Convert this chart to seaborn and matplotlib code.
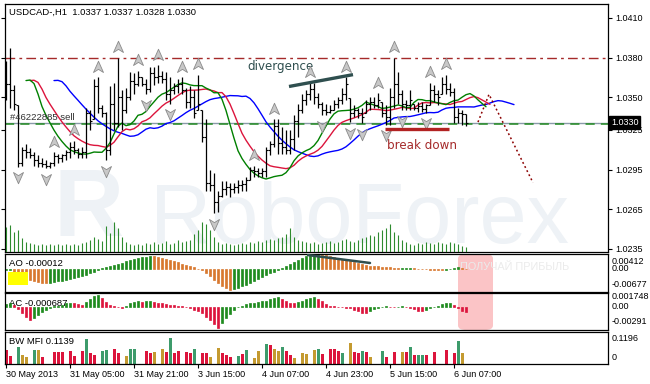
import numpy as np
import pandas as pd
import matplotlib
matplotlib.use("Agg")
import matplotlib.pyplot as plt
from matplotlib.path import Path
from matplotlib.patches import FancyBboxPatch, Rectangle
import seaborn as sns

sns.set_theme(style="white")
plt.rcParams['font.family'] = ['Liberation Sans', 'DejaVu Sans']

# ---------------- data ----------------
high = [1.0377,1.0387,1.0359,1.0344,1.0312,1.0314,1.0311,1.0308,1.0306,1.0304,
        1.0302,1.0301,1.0308,1.0307,1.0307,1.0310,1.0316,1.0317,1.0311,1.0312,
        1.0342,1.0340,1.0364,1.0365,1.0344,1.0339,1.0358,1.0361,1.0380,1.0355,
        1.0357,1.0369,1.0368,1.0370,1.0365,1.0364,1.0373,1.0373,1.0374,1.0370,
        1.0369,1.0365,1.0361,1.0364,1.0365,1.0357,1.0358,1.0355,1.0367,1.0340,
        1.0333,1.0295,1.0292,1.0279,1.0286,1.0286,1.0285,1.0285,1.0287,1.0287,
        1.0289,1.0297,1.0298,1.0296,1.0296,1.0312,1.0317,1.0333,1.0333,1.0327,
        1.0325,1.0325,1.0336,1.0345,1.0352,1.0355,1.0361,1.0361,1.0353,1.0346,
        1.0345,1.0344,1.0348,1.0350,1.0357,1.0365,1.0349,1.0344,1.0342,1.0342,
        1.0348,1.0350,1.0350,1.0353,1.0346,1.0344,1.0357,1.0380,1.0369,1.0355,
        1.0348,1.0355,1.0345,1.0346,1.0346,1.0345,1.0361,1.0359,1.0355,1.0365,
        1.0367,1.0361,1.0357,1.0342,1.0340,1.0337]
low = [1.0348,1.0342,1.0340,1.0297,1.0298,1.0304,1.0304,1.0298,1.0297,1.0297,
       1.0296,1.0296,1.0298,1.0300,1.0301,1.0302,1.0304,1.0307,1.0304,1.0304,
       1.0304,1.0325,1.0333,1.0338,1.0335,1.0302,1.0306,1.0325,1.0327,1.0325,
       1.0338,1.0348,1.0352,1.0358,1.0358,1.0352,1.0354,1.0359,1.0361,1.0361,
       1.0348,1.0345,1.0352,1.0353,1.0352,1.0342,1.0342,1.0334,1.0340,1.0316,
       1.0279,1.0279,1.0262,1.0263,1.0274,1.0276,1.0274,1.0277,1.0277,1.0279,
       1.0279,1.0287,1.0289,1.0289,1.0289,1.0289,1.0306,1.0312,1.0307,1.0307,
       1.0307,1.0307,1.0310,1.0320,1.0338,1.0344,1.0348,1.0345,1.0342,1.0336,
       1.0336,1.0338,1.0340,1.0342,1.0345,1.0348,1.0331,1.0335,1.0334,1.0330,
       1.0338,1.0340,1.0342,1.0342,1.0335,1.0329,1.0329,1.0342,1.0345,1.0340,
       1.0340,1.0340,1.0340,1.0339,1.0339,1.0338,1.0344,1.0346,1.0344,1.0352,
       1.0352,1.0351,1.0330,1.0330,1.0329,1.0328]
close = [1.0360,1.0355,1.0345,1.0300,1.0310,1.0308,1.0306,1.0302,1.0300,1.0299,
         1.0298,1.0300,1.0305,1.0304,1.0306,1.0308,1.0312,1.0310,1.0307,1.0308,
         1.0338,1.0332,1.0358,1.0342,1.0338,1.0310,1.0345,1.0330,1.0350,1.0340,
         1.0350,1.0362,1.0360,1.0365,1.0360,1.0356,1.0368,1.0365,1.0366,1.0364,
         1.0352,1.0355,1.0358,1.0360,1.0355,1.0346,1.0350,1.0338,1.0345,1.0320,
         1.0285,1.0283,1.0270,1.0275,1.0280,1.0282,1.0280,1.0282,1.0283,1.0284,
         1.0287,1.0295,1.0294,1.0292,1.0294,1.0310,1.0314,1.0328,1.0315,1.0312,
         1.0310,1.0318,1.0332,1.0340,1.0348,1.0352,1.0356,1.0350,1.0345,1.0340,
         1.0339,1.0340,1.0345,1.0348,1.0352,1.0360,1.0338,1.0340,1.0338,1.0335,
         1.0345,1.0346,1.0344,1.0348,1.0338,1.0335,1.0350,1.0360,1.0352,1.0345,
         1.0344,1.0348,1.0342,1.0343,1.0341,1.0344,1.0355,1.0352,1.0350,1.0360,
         1.0356,1.0354,1.0335,1.0338,1.0337,1.0330]
volume = [25,27,20,22,14,10,9,8,7,8,
          7,8,7,8,7,8,7,8,7,9,
          10,12,15,13,11,26,19,30,24,15,
          10,8,7,8,7,9,8,10,8,9,
          11,8,9,12,10,11,12,18,22,30,
          28,22,15,10,8,9,8,7,8,9,
          8,10,9,11,10,12,13,12,14,15,
          18,24,15,12,11,10,9,10,8,9,
          10,11,9,10,12,13,11,10,12,14,
          15,17,16,20,22,24,28,20,17,12,
          10,8,7,9,8,10,9,8,10,9,
          8,10,9,8,6,5]
ao_milli = [-0.3,-0.2,-1.0,-1.6,-2.2,-2.8,-3.4,-3.8,-4.1,-4.3,
            -4.4,-4.3,-4.1,-3.9,-3.7,-3.4,-3.1,-2.8,-2.5,-2.2,
            -1.8,-1.4,-0.9,-0.4,0.3,0.6,0.9,1.3,1.6,2.0,
            2.4,2.8,3.1,3.4,3.7,3.9,4.1,4.0,3.8,3.5,
            3.2,2.9,2.5,2.1,1.7,1.3,0.9,0.5,0.1,-0.3,
            -1.2,-2.3,-3.4,-4.5,-5.4,-6.1,-6.6,-6.4,-6.0,-5.5,
            -5.0,-4.4,-3.8,-3.2,-2.6,-2.0,-1.4,-0.9,-0.4,0.2,
            0.8,1.5,2.2,3.0,3.6,4.0,4.3,4.5,4.6,4.5,
            4.3,4.0,3.7,3.4,3.1,2.8,2.5,2.2,1.8,1.5,
            1.2,1.0,0.9,0.8,0.7,0.6,0.5,0.4,0.3,0.35,
            0.4,0.45,0.3,0.15,0.05,-0.1,-0.2,-0.3,-0.35,-0.4,
            -0.2,0.1,0.4,0.6,0.3,-0.12]
ac_milli = [0.4,0.5,0.3,-0.3,-0.9,-1.4,-1.8,-1.5,-1.1,-0.7,
            -0.4,-0.1,0.1,0.2,0.3,0.5,0.6,0.5,0.4,0.3,
            0.7,1.1,1.5,1.7,1.2,0.7,0.3,0.1,0.04,-0.1,
            0.2,0.5,0.7,0.8,0.75,0.8,0.85,0.7,0.6,0.5,
            0.4,0.35,0.3,0.2,0.1,0.04,-0.2,-0.4,-0.6,-0.9,
            -1.4,-1.9,-2.4,-2.9,-2.3,-1.6,-1.0,-0.4,0.04,0.2,
            0.4,0.5,0.6,0.7,0.8,0.9,1.1,1.3,1.4,1.1,
            0.8,0.6,0.5,0.7,0.9,1.1,1.3,1.4,1.1,0.8,
            0.4,0.2,0.1,0.05,-0.05,-0.1,-0.2,-0.4,-0.6,-0.8,
            -0.9,-0.6,-0.3,-0.1,0.04,0.08,0.04,-0.05,0.04,0.08,
            0.04,-0.1,-0.3,-0.5,-0.6,-0.4,-0.2,0.04,0.2,0.4,
            0.5,0.6,0.3,-0.2,-0.5,-0.687]
mfi = [0.066,0.038,0.050,0.080,0.042,0.034,0.047,0.066,0.066,0.033,
       0.034,0.034,0.058,0.058,0.058,0.080,0.062,0.038,0.050,0.062,
       0.117,0.050,0.040,0.085,0.062,0.066,0.112,0.070,0.050,0.080,
       0.038,0.070,0.070,0.062,0.080,0.062,0.050,0.058,0.062,0.070,
       0.058,0.1196,0.050,0.062,0.095,0.058,0.050,0.070,0.080,0.050,
       0.050,0.033,0.062,0.075,0.050,0.040,0.033,0.050,0.038,0.045,
       0.066,0.080,0.028,0.060,0.060,0.094,0.090,0.070,0.060,0.080,
       0.060,0.040,0.030,0.066,0.050,0.045,0.066,0.066,0.070,0.045,
       0.075,0.072,0.070,0.062,0.050,0.098,0.098,0.058,0.050,0.062,
       0.058,0.033,0.050,0.058,0.062,0.033,0.066,0.058,0.050,0.058,
       0.058,0.080,0.040,0.040,0.040,0.040,0.058,0.058,0.080,0.118,
       0.066,0.060,0.050,0.110,0.050,0.1139]
mfi_kind = ("rrbgyybgyr" "bbrrrbrrbr" "grrbggbrrb" "yggbbrryby" "rgrrbrrgbr"
            "rybyrrrbgr" "gbyybgryyg" "rrybyybygr" "brrrgbyrrg" "rybbgrbrby"
            "rgrggrbrbb" "rbrgyb")
date_idx = [0, 16, 32, 48, 64, 80, 96, 112]
date_labels = ["30 May 2013", "31 May 05:00", "31 May 21:00", "3 Jun 15:00",
               "4 Jun 07:00", "4 Jun 23:00", "5 Jun 15:00", "6 Jun 07:00"]
price_ticks = [1.0410, 1.0380, 1.0350, 1.0325, 1.0295, 1.0265, 1.0235]
tp_level = 1.0380
bid_level = 1.0330
order_level = 1.03293
div_x = [70.75, 86.75]
div_y = [1.0358, 1.0367]
brk_x = [94.75, 110.75]
brk_y = [1.03257, 1.03257]
proj_x = [118.0, 120.75, 131.75]
proj_y = [1.0331, 1.0352, 1.0285]
ao_div_x = [75.5, 91.0]
ao_div_y = [0.0044, 0.0019]

# ---------------- derived ----------------
n = len(close)
idx = np.arange(n)
H = np.array(high); L = np.array(low); C = np.array(close)
O = np.clip(np.concatenate([[C[0]], C[:-1]]), L, H)
med = (H + L) / 2

def smma(x, p):
    out = np.empty_like(x)
    out[0] = x[0]
    for i in range(1, len(x)):
        out[i] = (out[i-1] * (p - 1) + x[i]) / p
    return out

jaw = smma(med, 13); teeth = smma(med, 8); lips = smma(med, 5)

# ---------------- figure ----------------
W, Hh = 650, 384
fig = plt.figure(figsize=(W/100, Hh/100), dpi=100)
fig.patch.set_facecolor("white")

def rect(l, t, r, b):
    return [l/W, 1 - b/Hh, (r - l)/W, (b - t)/Hh]

ax = fig.add_axes(rect(5, 4, 608, 252))
ax_ao = fig.add_axes(rect(5, 254, 608, 292))
ax_ac = fig.add_axes(rect(5, 293, 608, 330))
ax_mfi = fig.add_axes(rect(5, 332, 608, 364))
XL = (-0.25, 150.5)
for a in (ax, ax_ao, ax_ac, ax_mfi):
    a.set_facecolor("none")
    a.set_xlim(*XL)
    for s in a.spines.values():
        s.set_color("black"); s.set_linewidth(0.9)
    a.tick_params(axis="x", bottom=False, labelbottom=False)
    a.tick_params(axis="y", left=False, labelleft=False, right=False, labelright=False)

# watermark (behind axes)
fig.text(54/W, 1 - 236/Hh, "R", fontsize=70, fontweight="bold", color="#eef2f6",
         va="baseline", ha="left", zorder=-2, family="Liberation Sans")
fig.text(150/W, 1 - 243/Hh, "RoboForex", fontsize=61, color="#eef2f6",
         va="baseline", ha="left", zorder=-2, family="Liberation Sans")

# pink highlight behind AO/AC
fig.add_artist(FancyBboxPatch((458/W, 1 - 330/Hh), 35/W, 76/Hh,
                              boxstyle="round,pad=0,rounding_size=0.012",
                              transform=fig.transFigure, facecolor="#fbc4c6",
                              edgecolor="none", zorder=-1))

# ---- main price panel ----
ax.set_ylim(1.02324, 1.04206)
ax.axhline(tp_level, color="#a52a2a", lw=1, ls=(0, (7, 3, 2, 3)), zorder=1)
ax.axhline(bid_level, color="#8a9aaa", lw=1, zorder=1)
ax.axhline(order_level, color="#228b22", lw=1.1, ls=(0, (6, 4)), zorder=1)

ax_vol = ax.twinx()
ax_vol.set_ylim(0, 248)
ax_vol.set_xlim(*XL)
ax_vol.vlines(idx, 0, volume, color="#2e8b2e", lw=0.8)
ax_vol.set_axis_off()

ax.vlines(idx, L, H, color="black", lw=0.9, zorder=3)
ax.hlines(O, idx - 0.45, idx, color="black", lw=0.8, zorder=3)
ax.hlines(C, idx, idx + 0.45, color="black", lw=0.8, zorder=3)

allig = pd.DataFrame({
    "x": np.concatenate([idx + 12, idx + 6, idx + 5]),
    "y": np.concatenate([jaw, teeth, lips]),
    "line": ["jaw"] * n + ["teeth"] * n + ["lips"] * n,
})
sns.lineplot(data=allig, x="x", y="y", hue="line", estimator=None, sort=False,
             palette={"jaw": "#0000ff", "teeth": "#dc143c", "lips": "#008000"},
             lw=1, legend=False, ax=ax, zorder=2)
ax.set_xlabel(""); ax.set_ylabel("")
ax.set_xlim(*XL)

# fractals
up_m = Path([(0, 1), (0.8, -0.8), (0, -0.3), (-0.8, -0.8), (0, 1)],
            [Path.MOVETO, Path.LINETO, Path.LINETO, Path.LINETO, Path.CLOSEPOLY])
dn_m = Path([(0, -1), (0.8, 0.8), (0, 0.3), (-0.8, 0.8), (0, -1)],
            [Path.MOVETO, Path.LINETO, Path.LINETO, Path.LINETO, Path.CLOSEPOLY])
up_i = [i for i in range(2, n - 2) if H[i] > max(H[i-2:i]) and H[i] >= max(H[i+1:i+3])]
dn_i = [i for i in range(2, n - 2) if L[i] < min(L[i-2:i]) and L[i] <= min(L[i+1:i+3])]
ax.plot(up_i, H[up_i] + 0.0008, ls="none", marker=up_m, ms=9,
        mfc="#c8c8c8", mec="#8a8a8a", mew=0.6, zorder=4)
ax.plot(dn_i, L[dn_i] - 0.0008, ls="none", marker=dn_m, ms=9,
        mfc="#c8c8c8", mec="#8a8a8a", mew=0.6, zorder=4)

# annotations
ax.plot(div_x, div_y, color="#2f4f4f", lw=2.4, zorder=5, solid_capstyle="butt")
ax.text(60.3, 1.0373, "divergence", color="#2f4f4f", fontsize=8.6,
        family="DejaVu Sans", va="center", ha="left")
ax.plot(brk_x, brk_y, color="#b22222", lw=2.4, zorder=5, solid_capstyle="butt")
ax.text(95.3, 1.0313, "break down", color="#a52a2a", fontsize=8.6,
        family="DejaVu Sans", va="center", ha="left")
ax.plot(proj_x, proj_y, color="#8b0000", lw=1.1, ls=(0, (1.2, 1.8)), zorder=5)

ax.text(1.0, 1.0331, "#46222885 sell", fontsize=6.8, color="#303030",
        va="bottom", ha="left", zorder=6)
ax.text(0.007, 0.965, "USDCAD-,H1  1.0337 1.0337 1.0328 1.0330",
        transform=ax.transAxes, fontsize=6.8, color="black", va="center", ha="left")

ax.tick_params(axis="y", right=True, labelright=True, length=3, width=0.8,
               color="black", pad=2, labelsize=6.5, labelcolor="black")
ax.set_yticks(price_ticks)
ax.set_yticklabels([f"{p:.4f}" for p in price_ticks])
fig.text(611/W, 1 - 122.5/Hh, "1.0330", fontsize=6.5, color="white", va="center",
         ha="left", bbox=dict(facecolor="black", edgecolor="black", pad=1.3))

# ---- AO ----
ao = np.array(ao_milli) / 1000
ao_up = np.concatenate([[True], ao[1:] > ao[:-1]])
ao_col = np.where(ao_up, "#1f8b1f", "#d8782f")
ax_ao.bar(idx, ao, width=0.72, color=ao_col, edgecolor=ao_col, linewidth=0.5, zorder=2)
ax_ao.set_ylim(-0.00727, 0.00474)
ax_ao.plot(ao_div_x, ao_div_y, color="#2f4f4f", lw=1.8, zorder=3)
ax_ao.text(0.007, 0.74, "AO -0.00012", transform=ax_ao.transAxes, fontsize=6.8,
           va="center", ha="left", color="black")
ax_ao.text(0.755, 0.66, "ПОЛУЧАЙ ПРИБЫЛЬ", transform=ax_ao.transAxes, fontsize=7.8,
           va="center", ha="left", color="#ebebeb", zorder=1)
fig.add_artist(Rectangle((8/W, 1 - 285/Hh), 20/W, 13/Hh, transform=fig.transFigure,
                         facecolor="#ffff00", edgecolor="none", zorder=5))

# ---- AC ----
ac = np.array(ac_milli) / 1000
ac_up = np.concatenate([[True], ac[1:] > ac[:-1]])
ac_col = np.where(ac_up, "#1f8b1f", "#dc143c")
ax_ac.text(0.007, 0.72, "AC -0.000687", transform=ax_ac.transAxes, fontsize=6.8,
           va="center", ha="left", color="black", zorder=1)
ax_ac.bar(idx, ac, width=0.72, color=ac_col, edgecolor=ac_col, linewidth=0.5, zorder=2)
ax_ac.set_ylim(-0.00324, 0.00197)

# ---- BW MFI ----
kind_col = {"g": "#3d9b6b", "r": "#dc143c", "y": "#c49a30", "b": "#000080"}
mcols = [kind_col[k] for k in mfi_kind]
mwid = [0.22 if k == "b" else 0.75 for k in mfi_kind]
ax_mfi.bar(idx, mfi, width=mwid, color=mcols, linewidth=0, zorder=2)
ax_mfi.set_ylim(0, 0.150)
ax_mfi.text(0.007, 0.69, "BW MFI 0.1139", transform=ax_mfi.transAxes, fontsize=6.8,
            va="center", ha="left", color="black", zorder=3)
ax_mfi.set_xticks(date_idx)
ax_mfi.set_xticklabels(date_labels)
ax_mfi.tick_params(axis="x", bottom=True, labelbottom=True, length=3, width=0.8,
                   color="black", pad=1.5, labelsize=6.5, labelcolor="black")
for lbl in ax_mfi.get_xticklabels():
    lbl.set_ha("left")

# right-hand indicator scale labels
for txt, ypx in [("0.00412", 261.0), ("0.00", 268.5), ("-0.00677", 284.5),
                 ("0.001748", 296.7), ("0.00", 306.5), ("-0.00291", 321.7),
                 ("0.1196", 338.8), ("0", 357.5)]:
    fig.text(612/W, 1 - ypx/Hh, txt, fontsize=6.5, va="center", ha="left", color="black")

fig.savefig("out.png", dpi=100)
